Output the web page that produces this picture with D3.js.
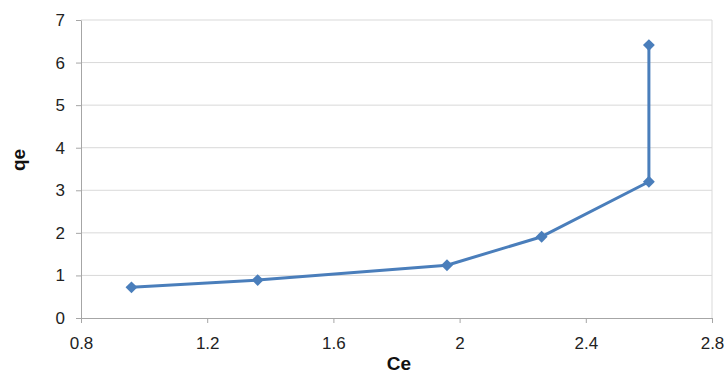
<!DOCTYPE html>
<html>
<head>
<meta charset="utf-8">
<script src="https://cdn.jsdelivr.net/npm/d3@7"></script>
<style>
  html, body { margin: 0; padding: 0; background: #fff; }
  svg { display: block; font-family: "Liberation Sans", Arial, sans-serif; }
</style>
</head>
<body>
<svg id="chart" width="725" height="375"></svg>
<script>
// Equilibrium data: concentration Ce vs. uptake qe
const ce = [0.96, 1.36, 1.96, 2.26, 2.60, 2.60];
const qe = [0.72, 0.89, 1.24, 1.91, 3.20, 6.41];
const xTicks = [0.8, 1.2, 1.6, 2, 2.4, 2.8];
const yTicks = [0, 1, 2, 3, 4, 5, 6, 7];

const svg = d3.select("#chart");
const margin = { left: 81, right: 13, top: 20, bottom: 57 };
const W = 725, H = 375;

const x = d3.scaleLinear().domain([0.8, 2.8]).range([margin.left, W - margin.right]);
const y = d3.scaleLinear().domain([0, 7]).range([H - margin.bottom, margin.top]);

// horizontal gridlines
svg.append("g")
  .selectAll("line")
  .data(yTicks.filter(d => d > 0))
  .join("line")
  .attr("x1", x.range()[0]).attr("x2", x.range()[1])
  .attr("y1", d => y(d)).attr("y2", d => y(d))
  .attr("stroke", "#d9d9d9").attr("stroke-width", 1);

// right border of plot area
svg.append("line")
  .attr("x1", x.range()[1]).attr("x2", x.range()[1])
  .attr("y1", y(0)).attr("y2", y(7))
  .attr("stroke", "#d9d9d9").attr("stroke-width", 1);

// x axis
const xAxis = svg.append("g")
  .attr("transform", `translate(0,${y(0)})`)
  .call(d3.axisBottom(x).tickValues(xTicks).tickFormat(d3.format("")).tickSizeInner(5).tickSizeOuter(0).tickPadding(14));
xAxis.select(".domain").attr("stroke", "#a6a6a6");
xAxis.selectAll(".tick line").attr("stroke", "#a6a6a6");
xAxis.selectAll(".tick text").attr("font-size", 17).attr("fill", "#222");

// y axis
const yAxis = svg.append("g")
  .attr("transform", `translate(${x(0.8)},0)`)
  .call(d3.axisLeft(y).tickValues(yTicks).tickFormat(d3.format("d")).tickSizeInner(5).tickSizeOuter(0).tickPadding(11));
yAxis.select(".domain").attr("stroke", "#a6a6a6");
yAxis.selectAll(".tick line").attr("stroke", "#a6a6a6");
yAxis.selectAll(".tick text").attr("font-size", 17).attr("fill", "#222");

// axis titles
svg.append("text")
  .attr("x", 399).attr("y", 370)
  .attr("text-anchor", "middle").attr("font-size", 19).attr("font-weight", "bold")
  .attr("fill", "#111").text("Ce");
svg.append("text")
  .attr("transform", `translate(25,${160}) rotate(-90)`)
  .attr("text-anchor", "middle").attr("font-size", 19).attr("font-weight", "bold")
  .attr("fill", "#111").text("qe");

// data series
const pts = ce.map((c, i) => [c, qe[i]]);
const color = "#4a7ebb";
svg.append("path")
  .datum(pts)
  .attr("fill", "none").attr("stroke", color).attr("stroke-width", 3)
  .attr("stroke-linejoin", "round")
  .attr("d", d3.line().x(d => x(d[0])).y(d => y(d[1])));

svg.append("g")
  .selectAll("path")
  .data(pts)
  .join("path")
  .attr("transform", d => `translate(${x(d[0])},${y(d[1])})`)
  .attr("d", d3.symbol().type(d3.symbolDiamond2).size(90))
  .attr("fill", color);
</script>
</body>
</html>
